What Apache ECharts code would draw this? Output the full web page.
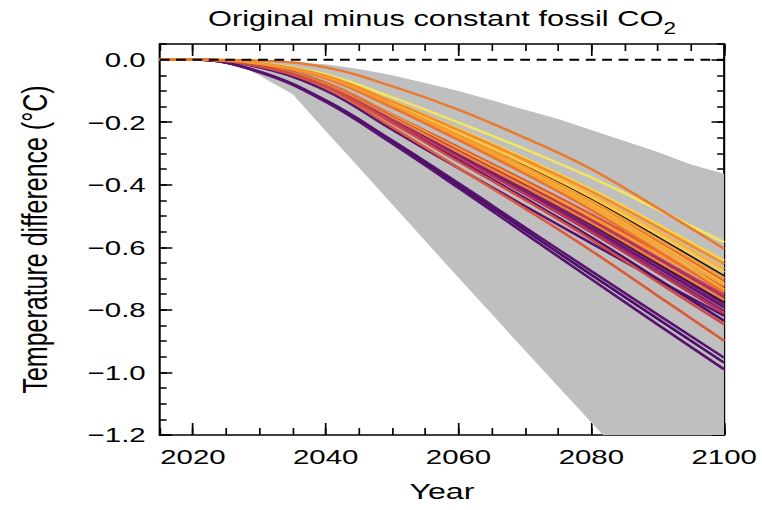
<!DOCTYPE html>
<html><head><meta charset="utf-8">
<script src="https://cdn.jsdelivr.net/npm/echarts@6/dist/echarts.min.js"></script>
<style>
html,body{margin:0;padding:0;background:#fff;overflow:hidden;width:762px;height:510px}
#c{width:544px;height:510px;transform:scaleX(1.4007);transform-origin:0 0;}
</style>
</head><body><div id="c"></div>
<script>
// ---------------- data ----------------
const years = [2015,2020,2030,2040,2050,2060,2070,2080,2090,2100];
const run01 = [0,0,-0.011,-0.047,-0.12,-0.201,-0.286,-0.377,-0.479,-0.584];
const run02 = [0,0,-0.003,-0.025,-0.085,-0.16,-0.25,-0.35,-0.475,-0.605];
const run03 = [0,0,-0.012,-0.051,-0.132,-0.222,-0.315,-0.415,-0.527,-0.643];
const run04 = [0,0,-0.012,-0.052,-0.134,-0.225,-0.32,-0.421,-0.535,-0.653];
const run05 = [0,0,-0.012,-0.054,-0.137,-0.231,-0.328,-0.432,-0.549,-0.669];
const run06 = [0,0,-0.012,-0.054,-0.139,-0.235,-0.333,-0.439,-0.558,-0.68];
const run07 = [0,0,-0.012,-0.055,-0.142,-0.238,-0.339,-0.446,-0.567,-0.691];
const run08 = [0,0,-0.013,-0.056,-0.144,-0.242,-0.343,-0.452,-0.574,-0.7];
const run09 = [0,0,-0.013,-0.057,-0.145,-0.244,-0.346,-0.456,-0.58,-0.707];
const run10 = [0,0,-0.013,-0.057,-0.147,-0.247,-0.351,-0.462,-0.588,-0.717];
const run11 = [0,0,-0.013,-0.058,-0.148,-0.249,-0.354,-0.466,-0.592,-0.722];
const run12 = [0,0,-0.017,-0.073,-0.175,-0.28,-0.386,-0.495,-0.612,-0.728];
const run13 = [0,0,-0.013,-0.059,-0.151,-0.254,-0.36,-0.474,-0.603,-0.735];
const run14 = [0,0,-0.018,-0.074,-0.177,-0.285,-0.392,-0.503,-0.621,-0.739];
const run15 = [0,0,-0.013,-0.06,-0.153,-0.257,-0.365,-0.481,-0.611,-0.745];
const run16 = [0,0,-0.018,-0.075,-0.18,-0.29,-0.399,-0.511,-0.632,-0.752];
const run17 = [0,0,-0.018,-0.076,-0.182,-0.293,-0.403,-0.517,-0.638,-0.76];
const run18 = [0,0,-0.018,-0.077,-0.184,-0.296,-0.407,-0.522,-0.645,-0.768];
const run19 = [0,0,-0.019,-0.078,-0.186,-0.299,-0.411,-0.528,-0.652,-0.776];
const run20 = [0,0,-0.019,-0.079,-0.188,-0.302,-0.416,-0.534,-0.659,-0.785];
const run21 = [0,0,-0.019,-0.079,-0.19,-0.305,-0.42,-0.539,-0.665,-0.792];
const run22 = [0,0,-0.019,-0.08,-0.193,-0.309,-0.426,-0.546,-0.675,-0.803];
const run23 = [0,0,-0.019,-0.081,-0.195,-0.313,-0.43,-0.552,-0.682,-0.812];
const run24 = [0,0,-0.025,-0.099,-0.224,-0.347,-0.468,-0.587,-0.704,-0.819];
const run25 = [0,0,-0.02,-0.084,-0.2,-0.321,-0.443,-0.568,-0.701,-0.835];
const run26 = [0,0,-0.02,-0.085,-0.203,-0.326,-0.448,-0.575,-0.711,-0.846];
const run27 = [0,0,-0.022,-0.09,-0.216,-0.346,-0.476,-0.611,-0.755,-0.899];
const run28 = [0,0,-0.038,-0.13,-0.258,-0.395,-0.536,-0.676,-0.815,-0.953];
const run29 = [0,0,-0.039,-0.132,-0.263,-0.402,-0.545,-0.688,-0.829,-0.969];
const run30 = [0,0,-0.04,-0.135,-0.268,-0.41,-0.556,-0.702,-0.847,-0.99];

const bandYears = [2015,2020,2022,2025,2028,2030,2032,2035,2040,2045,2050,2055,2060,2065,2070,2075,2080,2085,2090,2095,2100];
const bandUpper = [0,0,0,0,-0.001,-0.002,-0.004,-0.008,-0.015,-0.03,-0.05,-0.075,-0.1,-0.13,-0.16,-0.19,-0.225,-0.26,-0.295,-0.335,-0.365];
const bandLower = [0,0,0,-0.01,-0.03,-0.05,-0.075,-0.11,-0.228,-0.345,-0.462,-0.58,-0.697,-0.813,-0.93,-1.045,-1.16,-1.275,-1.39,-1.5,-1.61];

const refYears = [2015,2100];
const refValues = [0,0];

const xMajorTicks = [2020,2040,2060,2080,2100];
const yMajorTicks = [-1.2,-1.0,-0.8,-0.6,-0.4,-0.2,0];

// ---------------- styles ----------------
const runs = [run24,run19,run28,run12,run01,run21,run16,run29,run05,run22,run09,run03,run25,run14,run07,run17,run30,run06,run20,run27,run10,run13,run23,run04,run18,run11,run26,run15,run08,run02];
const runColors = ['#58146e','#2d0b4c','#5a1470','#d8533f','#f4e55f','#5c136e','#c43f55','#4c0f6a','#f9b13c','#8e2467','#e2653a','#f7d24a','#48106a','#fa9a2c','#111111','#a82e62','#581270','#fbc848','#7d1d6e','#dc5a3e','#f8c243','#f5aa38','#b8375a','#f08c2c','#e7803a','#f7a332','#d04a46','#eb7230','#f49a2f','#ea7a2c'];

const zip = (xs, ys) => xs.map((x, i) => [x, ys[i]]);
const FONT = 'Liberation Sans';

const series = [];
// grey spread band: polygon between upper and lower edges, placed via the axes
series.push({
  type:'custom', silent:true, z:1,
  data: bandYears.map((y, i) => [y, bandUpper[i], bandLower[i]]),
  encode:{x:0, y:[1,2]},
  renderItem: (params, api) => {
    if (params.dataIndex !== 0) return null;
    const pts = [];
    for (let i = 0; i < bandYears.length; i++) pts.push(api.coord([bandYears[i], bandUpper[i]]));
    for (let i = bandYears.length - 1; i >= 0; i--) pts.push(api.coord([bandYears[i], bandLower[i]]));
    const cs = params.coordSys;
    return {type:'polygon', shape:{points:pts}, style:{fill:'#bfbfbf', stroke:null},
      clipPath:{type:'rect', shape:{x:cs.x, y:cs.y, width:cs.width, height:cs.height}}};
  }
});
runs.forEach((r, i) => {
  series.push({type:'line', data: zip(years, r), symbol:'none', smooth:0.4,
    lineStyle:{width: runColors[i] === '#111111' ? 1.5 : 2.3, color: runColors[i]}, silent:true, z:2});
});
series.push({type:'line', data: zip(refYears, refValues), symbol:'none',
  lineStyle:{color:'#000', width:2, type:[7,4.7]}, silent:true, z:3});

const xBase = {type:'value', min:2015, max:2100, splitLine:{show:false}};
const yBase = {type:'value', min:-1.2, max:0.05, splitLine:{show:false}};
const lineOn = {show:true, onZero:false, lineStyle:{color:'#000', width:1.5}};
const lineOff = {show:false, onZero:false};

const option = {
  animation:false,
  backgroundColor:'#fff',
  textStyle:{fontFamily:FONT},
  grid:{left:114, right:27, top:44, bottom:75, containLabel:false, outerBoundsMode:'none'},
  graphic:[{type:'text', x:315.5, y:2, silent:true,
    style:{text:'Original minus constant fossil CO{s|2}', align:'center', verticalAlign:'top',
      fill:'#000', fontSize:22, fontFamily:FONT, lineHeight:34,
      rich:{s:{fontSize:16, fontFamily:FONT, lineHeight:12, verticalAlign:'bottom', fill:'#000'}}}}],
  xAxis:[
    Object.assign({}, xBase, {position:'bottom', axisLine:lineOn,
      axisTick:{show:true, inside:true, length:12, customValues:xMajorTicks, lineStyle:{color:'#000', width:1.2}},
      axisLabel:{show:true, customValues:xMajorTicks, color:'#000', fontSize:21, fontFamily:FONT, margin:11,
        formatter: v => String(v)},
      name:'Year', nameLocation:'middle', nameGap:45,
      nameTextStyle:{color:'#000', fontSize:23, fontFamily:FONT}}),
    Object.assign({}, xBase, {position:'bottom', interval:5, axisLine:lineOff,
      axisTick:{show:true, inside:true, length:7, lineStyle:{color:'#000', width:1.2}}, axisLabel:{show:false}}),
    Object.assign({}, xBase, {position:'top', axisLine:lineOn,
      axisTick:{show:true, inside:true, length:12, customValues:xMajorTicks, lineStyle:{color:'#000', width:1.2}},
      axisLabel:{show:false}}),
    Object.assign({}, xBase, {position:'top', interval:5, axisLine:lineOff,
      axisTick:{show:true, inside:true, length:7, lineStyle:{color:'#000', width:1.2}}, axisLabel:{show:false}})
  ],
  yAxis:[
    Object.assign({}, yBase, {position:'left', axisLine:lineOn,
      axisTick:{show:true, inside:true, length:9, customValues:yMajorTicks, lineStyle:{color:'#000', width:1.5}},
      axisLabel:{show:true, customValues:yMajorTicks, color:'#000', fontSize:21, fontFamily:FONT, margin:10,
        formatter: v => (Math.abs(v) < 1e-9 ? '0.0' : (v < 0 ? '\u2212' : '') + Math.abs(v).toFixed(1))},
      name:'Temperature difference (\u00B0C)', nameLocation:'middle', nameGap:77,
      nameTextStyle:{color:'#000', fontSize:25, fontFamily:FONT}}),
    Object.assign({}, yBase, {position:'left', interval:0.05, axisLine:lineOff,
      axisTick:{show:true, inside:true, length:5, lineStyle:{color:'#000', width:1.5}}, axisLabel:{show:false}}),
    Object.assign({}, yBase, {position:'right', axisLine:lineOn,
      axisTick:{show:true, inside:true, length:9, customValues:yMajorTicks, lineStyle:{color:'#000', width:1.5}},
      axisLabel:{show:false}}),
    Object.assign({}, yBase, {position:'right', interval:0.05, axisLine:lineOff,
      axisTick:{show:true, inside:true, length:5, lineStyle:{color:'#000', width:1.5}}, axisLabel:{show:false}})
  ],
  series: series
};

const chart = echarts.init(document.getElementById('c'), null, {renderer:'svg', width:544, height:510});
chart.setOption(option);
</script>
</body></html>
